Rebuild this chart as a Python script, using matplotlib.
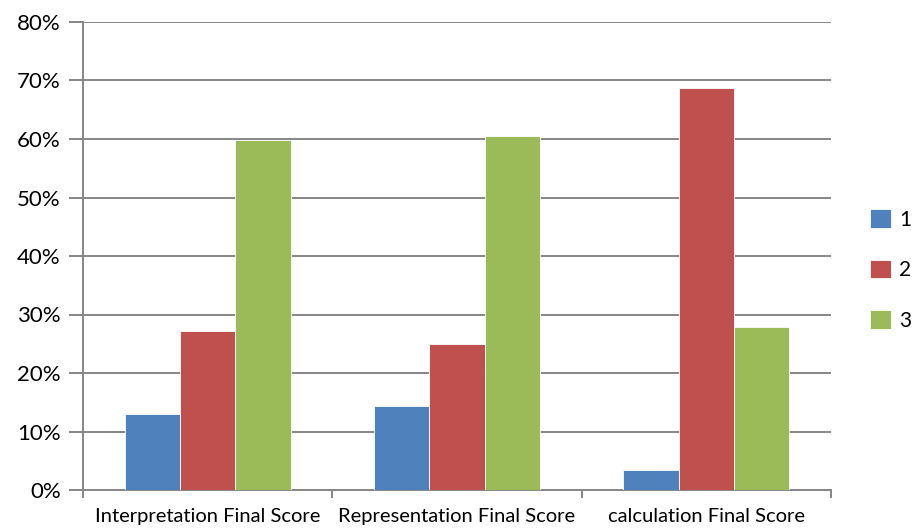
import matplotlib
matplotlib.use("Agg")
import matplotlib.pyplot as plt
import numpy as np
from matplotlib.ticker import FuncFormatter, FixedLocator

categories = ["Interpretation Final Score", "Representation Final Score", "calculation Final Score"]
series_names = ["1", "2", "3"]
s1 = [13.0, 14.4, 3.4]
s2 = [27.1, 25.0, 68.8]
s3 = [59.9, 60.5, 27.8]
colors = ["#4F81BD", "#C0504D", "#9BBB59"]

plt.rcParams['font.family'] = ['Lato', 'DejaVu Sans']

fig = plt.figure(figsize=(9.13, 5.29), dpi=100)
W, H = 913, 529
ax = fig.add_axes([83 / W, 1 - 490 / H, (831 - 83) / W, (490 - 22) / H])

x = np.arange(len(categories))
bw = 0.222
grid_c = "#868686"
for i, (vals, c, name) in enumerate(zip([s1, s2, s3], colors, series_names)):
    ax.bar(x + (i - 1) * bw, vals, width=bw, color=c, edgecolor="white", linewidth=0.6,
           label=name, zorder=3)

ax.set_xlim(-0.5, 2.5)
ax.set_ylim(0, 80)
ax.set_yticks(np.arange(0, 81, 10))
ax.yaxis.set_major_formatter(FuncFormatter(lambda v, p: f"{int(v)}%"))
ax.yaxis.grid(True, color=grid_c, linewidth=1.4, zorder=0)
ax.set_axisbelow(True)

ax.set_xticks(x)
ax.set_xticklabels(categories, fontsize=14.5)
ax.tick_params(axis='x', length=0, pad=13)
ax.xaxis.set_minor_locator(FixedLocator([-0.5, 0.5, 1.5, 2.5]))
ax.tick_params(axis='x', which='minor', length=6, color=grid_c, width=1.4, direction='out')
ax.tick_params(axis='y', length=10, color=grid_c, width=1.4, direction='out', labelsize=16, pad=6)

for s in ['top', 'right']:
    ax.spines[s].set_visible(False)
for s in ['left', 'bottom']:
    ax.spines[s].set_color(grid_c)
    ax.spines[s].set_linewidth(1.4)

leg = fig.legend(loc='center left', bbox_to_anchor=(870 / W, 1 - 270 / H),
                 bbox_transform=fig.transFigure, frameon=False, borderpad=0, borderaxespad=0,
                 fontsize=15, handlelength=1.0, handleheight=1.0, labelspacing=1.45,
                 handletextpad=0.4)

fig.savefig("out.png", dpi=100)
